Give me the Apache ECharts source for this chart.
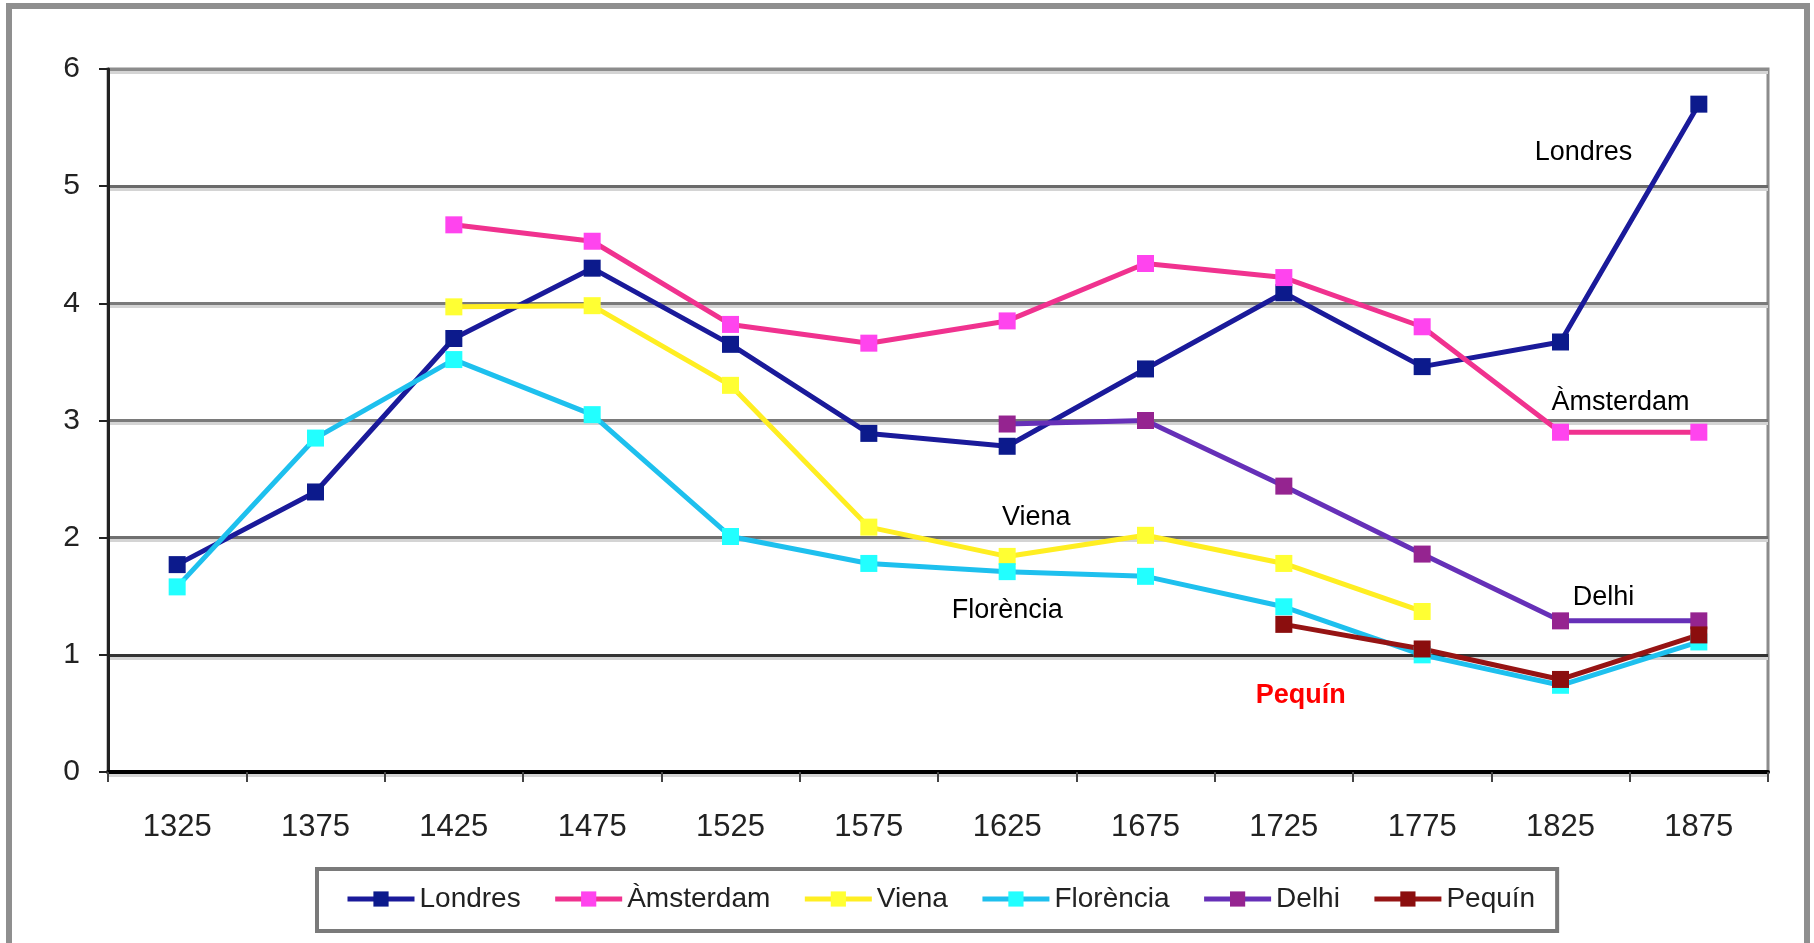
<!DOCTYPE html>
<html>
<head>
<meta charset="utf-8">
<script src="https://cdn.jsdelivr.net/npm/echarts@6/dist/echarts.min.js"></script>
<style>
  html, body { margin: 0; padding: 0; background: #fff; }
  #chart { width: 1814px; height: 943px; }
</style>
</head>
<body>
<div id="chart"></div>
<script>
const anys = ['1325', '1375', '1425', '1475', '1525', '1575', '1625', '1675', '1725', '1775', '1825', '1875'];

const londres    = [1.77, 2.39, 3.70, 4.30, 3.65, 2.89, 2.78, 3.44, 4.09, 3.46, 3.67, 5.70];
const amsterdam  = [null, null, 4.67, 4.53, 3.82, 3.66, 3.85, 4.34, 4.22, 3.80, 2.90, 2.90];
const viena      = [null, null, 3.97, 3.98, 3.30, 2.09, 1.84, 2.02, 1.78, 1.37, null, null];
const florencia  = [1.58, 2.85, 3.52, 3.05, 2.01, 1.78, 1.71, 1.67, 1.41, 1.00, 0.74, 1.11];
const delhi      = [null, null, null, null, null, null, 2.97, 3.00, 2.44, 1.86, 1.29, 1.29];
const pequin     = [null, null, null, null, null, null, null, null, 1.26, 1.05, 0.79, 1.17];

// etiquetes dins del gràfic: [text, any, valor, desplaçament x]
const etiquetes = [
  ['Londres', '1825', 5.29, 23, '#000', 'normal'],
  ['Àmsterdam', '1825', 3.15, 60, '#000', 'normal'],
  ['Viena', '1625', 2.17, 29, '#000', 'normal'],
  ['Florència', '1625', 1.38, 0, '#000', 'normal'],
  ['Delhi', '1825', 1.49, 43, '#000', 'normal'],
  ['Pequín', '1725', 0.65, 17, '#ff0000', 'bold']
];

const font = 'Arial, "Liberation Sans", sans-serif';

function serie(nom, dades, linia, marca) {
  return {
    name: nom,
    type: 'line',
    data: dades,
    symbol: 'rect',
    symbolSize: 17,
    showAllSymbol: true,
    lineStyle: { color: linia, width: 5 },
    itemStyle: { color: marca, borderWidth: 0 },
    emphasis: { disabled: true }
  };
}

const chart = echarts.init(document.getElementById('chart'));

chart.setOption({
  animation: false,
  backgroundColor: '#fff',
  textStyle: { fontFamily: font },
  grid: {
    left: 108, right: 46, top: 69, bottom: 171,
    show: true, borderColor: '#8c8c8c', borderWidth: 3, backgroundColor: '#fff'
  },
  legend: {
    left: 317, top: 869,
    padding: [16, 22, 18, 28],
    itemWidth: 67, itemHeight: 19, itemGap: 32,
    borderColor: '#7a7a7a', borderWidth: 4,
    lineStyle: { width: 5 },
    textStyle: { fontSize: 28, color: '#222', fontFamily: font },
    data: ['Londres', 'Àmsterdam', 'Viena', 'Florència', 'Delhi', 'Pequín']
  },
  xAxis: {
    type: 'category',
    data: anys,
    boundaryGap: true,
    axisLine: { lineStyle: { color: '#000', width: 4 } },
    axisTick: { show: true, length: 10, lineStyle: { color: '#444', width: 2 } },
    axisLabel: { fontSize: 31, color: '#222', margin: 40, fontFamily: font }
  },
  yAxis: {
    type: 'value',
    min: 0, max: 6, interval: 1,
    axisLine: { show: true, lineStyle: { color: '#222', width: 3 } },
    axisTick: { show: true, length: 9, lineStyle: { color: '#222', width: 2 } },
    axisLabel: { fontSize: 30, color: '#222', margin: 28, fontFamily: font },
    splitLine: {
      lineStyle: {
        color: ['#000', '#333', '#707070', '#7a7a7a', '#7a7a7a', '#6a6a6a', '#8c8c8c'],
        width: 3, shadowColor: '#d4d4d4', shadowOffsetY: 3, shadowBlur: 0
      }
    }
  },
  series: [
    serie('Londres', londres, '#1a1a9a', '#0c1a8c'),
    serie('Àmsterdam', amsterdam, '#f0328f', '#ff44ee'),
    serie('Viena', viena, '#ffee22', '#ffff33'),
    serie('Florència', florencia, '#1ec0ee', '#22ffff'),
    serie('Delhi', delhi, '#6630b8', '#952490'),
    serie('Pequín', pequin, '#961414', '#8b0e0e')
  ]
});

const textos = etiquetes.map(([text, any, valor, dx, color, pes]) => {
  const p = chart.convertToPixel({ xAxisIndex: 0, yAxisIndex: 0 }, [any, valor]);
  return {
    type: 'text',
    x: p[0] + dx, y: p[1],
    style: {
      text: text, fill: color, fontSize: 27, fontWeight: pes, fontFamily: font,
      align: 'center', verticalAlign: 'middle'
    },
    z: 10
  };
});

chart.setOption({
  graphic: [
    {
      type: 'rect',
      shape: { x: 9, y: 6, width: 1798, height: 1000 },
      style: { fill: 'none', stroke: '#8f8f8f', lineWidth: 6 },
      z: 0
    }
  ].concat(textos)
});
</script>
</body>
</html>
